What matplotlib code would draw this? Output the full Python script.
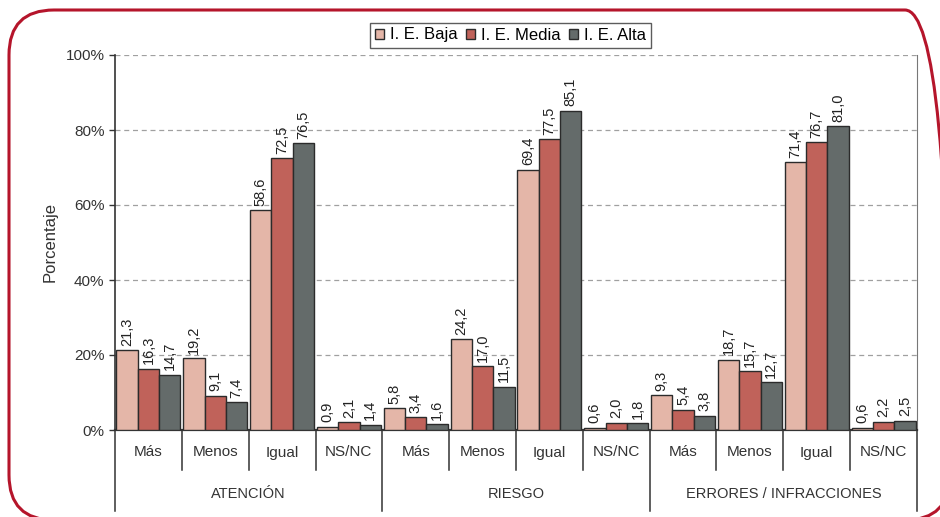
import numpy as np
import matplotlib
matplotlib.use("Agg")
import matplotlib.pyplot as plt
from matplotlib.patches import FancyBboxPatch

plt.rcParams['font.family'] = ['Liberation Sans', 'DejaVu Sans']

grupos = ["ATENCIÓN", "RIESGO", "ERRORES / INFRACCIONES"]
respuestas = ["Más", "Menos", "Igual", "NS/NC"]
series = ["I. E. Baja", "I. E. Media", "I. E. Alta"]

# porcentajes por grupo (Más, Menos, Igual, NS/NC)
baja = [21.3, 19.2, 58.6, 0.9,  5.8, 24.2, 69.4, 0.6,  9.3, 18.7, 71.4, 0.6]
media = [16.3, 9.1, 72.5, 2.1,  3.4, 17.0, 77.5, 2.0,  5.4, 15.7, 76.7, 2.2]
alta = [14.7, 7.4, 76.5, 1.4,  1.6, 11.5, 85.1, 1.8,  3.8, 12.7, 81.0, 2.5]

colores = ["#E4B6A8", "#C0625A", "#646B6A"]

fig = plt.figure(figsize=(9.4, 5.17), dpi=100)

# marco redondeado rojo, dibujado en pixeles sobre un eje de fondo
fondo = fig.add_axes([0, 0, 1, 1], zorder=-1)
fondo.set_xlim(0, 940)
fondo.set_ylim(0, 517)
fondo.axis("off")
marco = FancyBboxPatch((9, -3), 941, 510,
                       boxstyle="round,pad=0,rounding_size=45",
                       fill=False, edgecolor="#B5152B", linewidth=2.2)
fondo.add_patch(marco)

ax = fig.add_axes([115 / 940, 87 / 517, 802 / 940, 375 / 517])

n = len(baja)
x = np.arange(n)
w = 0.32
for i, (vals, col) in enumerate(zip([baja, media, alta], colores)):
    pos = x + (i - 1) * w
    ax.bar(pos, vals, width=w, color=col, edgecolor="#2b2b2b",
           linewidth=1.0, label=series[i], zorder=3)
    for p, v in zip(pos, vals):
        ax.text(p, v + 1.2, f"{v:.1f}".replace(".", ","), rotation=90,
                ha="center", va="bottom", fontsize=10.5, color="#222222")

ax.set_xlim(-0.5, n - 0.5)
ax.set_ylim(0, 100)
ax.set_yticks(range(0, 101, 20))
ax.set_yticklabels([f"{t}%" for t in range(0, 101, 20)], fontsize=11,
                   color="#333333")
ax.tick_params(axis="y", length=4, width=1, color="#333333")
ax.set_xticks([])
ax.grid(axis="y", linestyle=(0, (4, 3)), color="#a0a0a0", linewidth=0.9,
        zorder=0)
ax.set_ylabel("Porcentaje", fontsize=12, color="#333333", labelpad=6)

ax.spines["top"].set_visible(False)
ax.spines["right"].set_color("#777777")
ax.spines["left"].set_color("#333333")
ax.spines["left"].set_linewidth(1.2)
ax.spines["bottom"].set_color("#333333")
ax.spines["bottom"].set_linewidth(1.6)

# etiquetas jerárquicas del eje x
trans = ax.get_xaxis_transform()
for k in range(n + 1):
    xb = k - 0.5
    y_fin = -0.215 if k % 4 == 0 else -0.107
    ax.plot([xb, xb], [0, y_fin], transform=trans, color="#333333",
            linewidth=1.1, clip_on=False)
for k in range(n):
    ax.text(k, -0.06, respuestas[k % 4], transform=trans, ha="center",
            va="center", fontsize=11, color="#333333")
for g, nombre in enumerate(grupos):
    ax.text(g * 4 + 1.5, -0.172, nombre, transform=trans, ha="center",
            va="center", fontsize=10.5, color="#333333")

leg = ax.legend(loc="lower center", bbox_to_anchor=(0.493, 1.02), ncol=3,
                fontsize=12, frameon=True, fancybox=False,
                handlelength=0.55, handleheight=0.55, handletextpad=0.35,
                columnspacing=0.5, borderpad=0.3, borderaxespad=0)
leg.get_frame().set_edgecolor("#333333")
leg.get_frame().set_linewidth(1.0)

fig.savefig("out.png", dpi=100)
